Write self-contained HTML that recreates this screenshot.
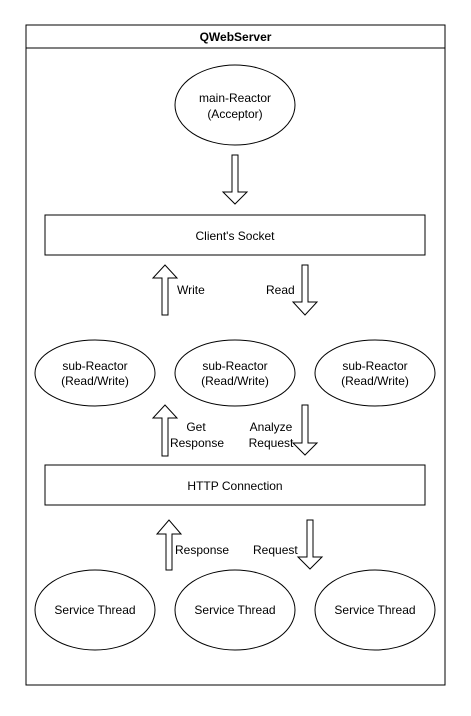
<!DOCTYPE html>
<html><head><style>body{margin:0;background:#fff}</style></head><body>
<svg width="471" height="711" xmlns="http://www.w3.org/2000/svg" font-family="Liberation Sans, Arial, sans-serif" font-size="12" fill="#000">
<rect width="471" height="711" fill="#fff"/>
<rect x="26" y="25" width="419" height="660" fill="none" stroke="#000"/>
<line x1="26" y1="48" x2="445" y2="48" stroke="#000"/>
<text x="235.5" y="41" text-anchor="middle" font-weight="bold">QWebServer</text>
<g fill="#fff" stroke="#000">
<ellipse cx="235" cy="105" rx="60" ry="40"/>
<rect x="45" y="215" width="380" height="40"/>
<rect x="45" y="465" width="380" height="40"/>
<ellipse cx="95" cy="373" rx="60" ry="33"/>
<ellipse cx="235" cy="373" rx="60" ry="33"/>
<ellipse cx="375" cy="373" rx="60" ry="33"/>
<ellipse cx="95" cy="610" rx="60" ry="40"/>
<ellipse cx="235" cy="610" rx="60" ry="40"/>
<ellipse cx="375" cy="610" rx="60" ry="40"/>
<!-- down arrows -->
<path d="M232,155H238V192H247L235,204L223,192H232Z"/>
<path d="M302,265H308V302H317L305,315L293,302H302Z"/>
<path d="M302,405H308V443H317L305,455L293,443H302Z"/>
<path d="M307,520H313V557H322L310,569L298,557H307Z"/>
<!-- up arrows -->
<path d="M162,315H168V278H177L165,265L153,278H162Z"/>
<path d="M162,456H168V418H177L165,405L153,418H162Z"/>
<path d="M166,570H172V534H181L169,520L157,534H166Z"/>
</g>
<g text-anchor="middle">
<text x="235" y="102">main-Reactor</text>
<text x="235" y="118">(Acceptor)</text>
<text x="235" y="240">Client's Socket</text>
<text x="235" y="490">HTTP Connection</text>
<text x="95" y="370">sub-Reactor</text><text x="95" y="385">(Read/Write)</text>
<text x="235" y="370">sub-Reactor</text><text x="235" y="385">(Read/Write)</text>
<text x="375" y="370">sub-Reactor</text><text x="375" y="385">(Read/Write)</text>
<text x="95" y="614">Service Thread</text>
<text x="235" y="614">Service Thread</text>
<text x="375" y="614">Service Thread</text>
<text x="196" y="431">Get</text>
<text x="197" y="447">Response</text>
<text x="271" y="431">Analyze</text>
<text x="271" y="447">Request</text>
</g>
<text x="177" y="294">Write</text>
<text x="266" y="294">Read</text>
<text x="175" y="554">Response</text>
<text x="253" y="554">Request</text>
</svg>
</body></html>
